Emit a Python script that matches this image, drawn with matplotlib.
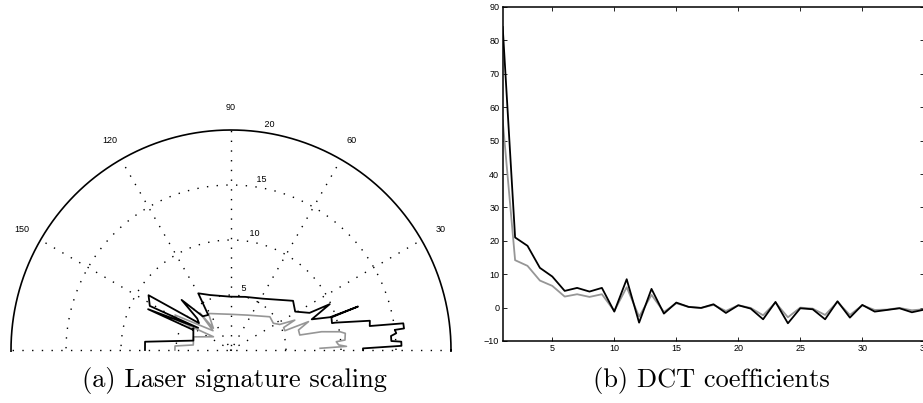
import numpy as np
import matplotlib.pyplot as plt

# (a) laser signatures, angle in degrees and range
black_theta = [0.0, 0.7, 1.4, 2.8, 3.2, 5.0, 5.8, 7.0, 7.1, 8.8, 9.8, 11.9, 14.7, 14.9,
               18.0, 18.9, 18.3, 20.8, 24.9, 25.3, 30.9, 38.4, 58.0, 75.0, 91.0, 110.9,
               120.0, 123.0, 130.0, 134.6, 137.0, 140.0, 146.4, 151.5, 146.0, 153.8,
               152.0, 150.0, 166.0, 174.5, 180.0]
black_r = [12.0, 12.0, 15.5, 15.5, 14.6, 14.6, 15.1, 15.0, 15.85, 15.85, 12.8, 12.9, 9.8, 9.5,
           9.6, 12.2, 9.5, 7.85, 9.9, 7.9, 6.8, 7.2, 5.5, 5.0, 4.85, 5.35,
           5.95, 3.8, 4.0, 6.4, 4.2, 3.8, 9.0, 8.4, 3.6, 8.4,
           3.9, 3.95, 3.53, 7.85, 7.82]
gray_theta = [1.1, 1.8, 2.7, 4.5, 5.0, 8.3, 9.5, 11.4, 12.3, 16.5, 20.1, 19.7, 23.1, 25.1,
              27.7, 32.3, 40.5, 65.0, 91.6, 121.7, 129.0, 130.0, 133.0, 148.0, 151.0,
              143.0, 160.6, 172.4, 175.9, 180.0]
gray_r = [8.1, 10.5, 9.8, 9.6, 10.4, 10.5, 10.05, 8.4, 6.4, 6.4, 7.5, 5.2, 5.2, 6.4,
          5.0, 4.55, 4.65, 3.5, 3.25, 3.9, 2.55, 4.4, 2.4, 6.0, 5.6,
          2.0, 3.6, 3.46, 5.1, 5.1]
polar_rings = [5, 10, 15, 20]
polar_spokes = [30, 60, 90, 120, 150, 180]

# (b) DCT coefficients
dct_index = np.arange(1, 36)
dct_black = [84, 21, 18.5, 11.9, 9.3, 5.0, 5.9, 4.8, 5.9, -1.2, 8.5, -4.5, 5.6, -1.8, 1.5,
             0.2, -0.1, 1.0, -1.6, 0.7, -0.3, -3.5, 1.7, -4.7, -0.2, -0.5, -3.5, 1.9, -3.0,
             0.8, -1.2, -0.7, -0.2, -1.4, -0.6]
dct_gray = [56, 14.2, 12.5, 8.1, 6.5, 3.3, 4.0, 3.2, 4.0, -1.0, 6.1, -2.7, 3.8, -1.3, 1.3,
            0.2, -0.1, 0.8, -1.0, 0.7, -0.1, -2.3, 1.5, -2.9, 0.0, -0.3, -2.2, 1.7, -2.2,
            0.7, -0.7, -0.6, -0.1, -0.8, -0.5]

GRAY = '#969696'
W, H = 923, 403
fig = plt.figure(figsize=(W / 100, H / 100), dpi=100)

# polar plot drawn MATLAB-style on plain axes (11 px per unit, centre at 231,350)
ax1 = fig.add_axes([0, (H - 352.2) / H, 462 / W, 255.2 / H])
ax1.set_xlim(-21, 21)
ax1.set_ylim(-0.2, 23)
ax1.axis('off')
t = np.linspace(0, 2 * np.pi, 600)
dot = (0, (1, 6))
for rr in polar_rings[:-1]:
    ax1.plot(rr * np.cos(t), rr * np.sin(t), color='k', lw=1.0, ls=dot)
rmax = polar_rings[-1]
ax1.plot(rmax * np.cos(t), rmax * np.sin(t), color='k', lw=1.2)
for a in polar_spokes:
    c, s = np.cos(np.radians(a)), np.sin(np.radians(a))
    ax1.plot([-rmax * c, rmax * c], [-rmax * s, rmax * s], color='k', lw=1.0, ls=dot)
    if a < 180:
        ax1.text(1.1 * rmax * c, 1.1 * rmax * s, str(a), ha='center', va='center',
                 fontsize=6.5, family='Liberation Sans', clip_on=False)
c82, s82 = np.cos(np.radians(82)), np.sin(np.radians(82))
for rr in polar_rings:
    ax1.text((rr + 0.25) * c82, (rr + 0.25) * s82, ' ' + str(rr), ha='left', va='bottom',
             fontsize=6.5, family='Liberation Sans', clip_on=False)

bt = np.radians(black_theta)
gt = np.radians(gray_theta)
ax1.plot(np.array(gray_r) * np.cos(gt), np.array(gray_r) * np.sin(gt), color=GRAY, lw=1.2)
ax1.plot(np.array(black_r) * np.cos(bt), np.array(black_r) * np.sin(bt), color='k', lw=1.3)

# DCT coefficient plot
ax2 = fig.add_axes([502.7 / W, (H - 341) / H, 421.6 / W, 334 / H])
ax2.plot(dct_index, dct_gray, color=GRAY, lw=1.3)
ax2.plot(dct_index, dct_black, color='k', lw=1.3)
ax2.set_xlim(1, 35)
ax2.set_ylim(-10, 90)
ax2.set_xticks(range(5, 36, 5))
ax2.set_yticks(range(-10, 91, 10))
ax2.tick_params(direction='in', top=True, right=True, length=3, width=0.6,
                labelsize=6.5, pad=2.5)
for lab in ax2.get_xticklabels() + ax2.get_yticklabels():
    lab.set_family('Liberation Sans')
for sp in ax2.spines.values():
    sp.set_linewidth(1.1)

fig.text(234 / W, (H - 380) / H, '(a) Laser signature scaling', ha='center', va='center',
         family='cmr10', fontsize=19)
fig.text(711 / W, (H - 380) / H, '(b) DCT coefficients', ha='center', va='center',
         family='cmr10', fontsize=19)

fig.savefig('out.png', dpi=100)
